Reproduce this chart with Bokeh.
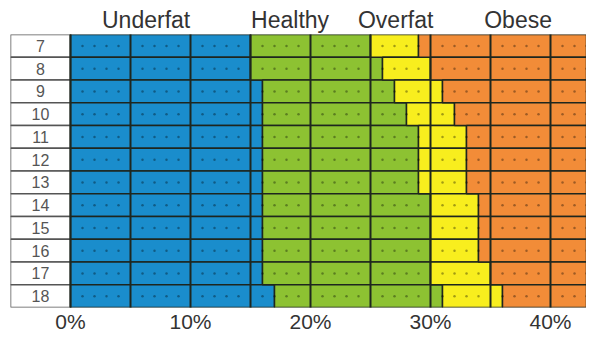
from bokeh.plotting import figure
from bokeh.models import FactorRange, Range1d, FixedTicker, LinearAxis, ColumnDataSource
from bokeh.core.properties import value
from bokeh.embed import file_html
from bokeh.resources import INLINE

# ---- data ----
ages = ["7", "8", "9", "10", "11", "12", "13", "14", "15", "16", "17", "18"]
underfat_upper = [15, 15, 16, 16, 16, 16, 16, 16, 16, 16, 16, 17]
healthy_upper = [25, 26, 27, 28, 29, 29, 29, 30, 30, 30, 30, 31]
overfat_upper = [29, 30, 31, 32, 33, 33, 33, 34, 34, 34, 35, 36]
obese_upper = [50] * 12
categories = ["Underfat", "Healthy", "Overfat", "Obese"]
tick_values = [0, 10, 20, 30, 40]
tick_labels = ["0%", "10%", "20%", "30%", "40%"]

# ---- style ----
colors = ["#1A8DCC", "#8DC232", "#F8EE1E", "#F28C38"]
dark = "#1E261E"
font = "Liberation Sans"
cat_label_pos = [6.3, 18.3, 27.1, 37.3]

p = figure(width=586, height=335,
           y_range=FactorRange(factors=ages[::-1]),
           x_range=Range1d(-5, 43),
           output_backend="svg", toolbar_location=None,
           y_axis_location=None,
           min_border_left=10, min_border_right=0,
           min_border_top=34, min_border_bottom=25)
p.outline_line_color = None
p.ygrid.visible = False

src = ColumnDataSource(dict(age=ages, zero=[0] * 12, u=underfat_upper,
                            h=healthy_upper, o=overfat_upper, b=obese_upper,
                            lab_l=[-5] * 12))

# label column
p.hbar(y="age", left="lab_l", right="zero", height=1, source=src,
       fill_color="white", line_color="#555555", line_width=1.5)
p.text(x=-2.5, y="age", text="age", source=src, text_align="center",
       text_baseline="middle", text_font=value(font), text_font_size="16px",
       text_color="#555555")

bounds = ["zero", "u", "h", "o", "b"]
for i, c in enumerate(colors):
    p.hbar(y="age", left=bounds[i], right=bounds[i + 1], height=1, source=src,
           fill_color=c, line_color=dark, line_width=1.5)

# small dots at every percent within rows
dx, dy = [], []
for a in ages:
    for k in range(1, 44):
        if k % 5:
            dx.append(k)
            dy.append(a)
p.scatter(x=dx, y=dy, size=2.5, marker="circle", fill_color="black",
          line_color=None, fill_alpha=0.35)

# vertical grid every 5%
p.xgrid.ticker = FixedTicker(ticks=list(range(0, 45, 5)))
p.xgrid.grid_line_color = dark
p.xgrid.grid_line_width = 2
p.xgrid.level = "overlay"

# bottom axis
ax = p.xaxis[0]
ax.ticker = FixedTicker(ticks=tick_values)
ax.major_label_overrides = {v: l for v, l in zip(tick_values, tick_labels)}
ax.axis_line_color = None
ax.major_tick_line_color = None
ax.minor_tick_line_color = None
ax.major_tick_out = 0
ax.major_tick_in = 0
ax.minor_tick_out = 0
ax.minor_tick_in = 0
ax.major_label_text_font = font
ax.major_label_text_font_size = "21px"
ax.major_label_text_color = "#333333"
ax.major_label_standoff = 2

# top category labels
top = LinearAxis(ticker=FixedTicker(ticks=cat_label_pos),
                 major_label_overrides={v: l for v, l in zip(cat_label_pos, categories)})
top.axis_line_color = None
top.major_tick_line_color = None
top.minor_tick_line_color = None
top.major_tick_out = 0
top.major_tick_in = 0
top.minor_tick_out = 0
top.minor_tick_in = 0
top.major_label_text_font = font
top.major_label_text_font_size = "23px"
top.major_label_text_color = "#333333"
top.major_label_standoff = 2
p.add_layout(top, "above")

open("out.html", "w").write(file_html(p, INLINE))
